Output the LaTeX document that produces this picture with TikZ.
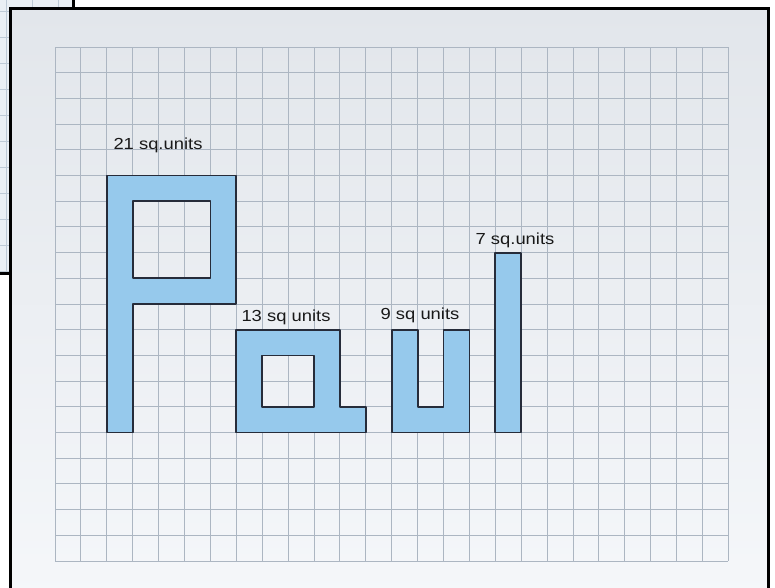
\documentclass[tikz,border=0pt]{standalone}
\usepackage{fontspec}
\setmainfont{Liberation Sans}
\newfontfamily\handfont[FakeStretch=1.15]{Liberation Sans}
\definecolor{behindpaper}{RGB}{234,239,244}
\definecolor{bgridcol}{RGB}{190,202,214}
\definecolor{papertop}{RGB}{226,230,235}
\definecolor{paperbot}{RGB}{245,247,250}
\definecolor{gridcol}{RGB}{172,182,194}
\definecolor{inkblue}{RGB}{150,201,236}
\definecolor{outlinecol}{RGB}{38,44,58}
\tikzset{
  frameline/.style={draw=black, line width=3pt},
  bgridline/.style={draw=bgridcol, line width=0.8pt},
  gridline/.style={draw=gridcol, line width=0.9pt},
  letter/.style={fill=inkblue, draw=outlinecol, line width=1.8pt, even odd rule, line join=round},
  lab/.style={font=\handfont\fontsize{16}{16}\selectfont, text=black!90, inner sep=0pt}
}
\begin{document}
\begin{tikzpicture}[x=1pt,y=-1pt]
\useasboundingbox (0,0) rectangle (775,587);
\fill[white] (0,0) rectangle (775,587);
% paper behind
\fill[behindpaper] (0,0) rectangle (73,273);
\foreach \yy in {11,37,...,273} \draw[bgridline] (0,\yy) -- (73,\yy);
\foreach \xx in {6,32,58} \draw[bgridline] (\xx,0) -- (\xx,273);
\draw[frameline] (73,0) -- (73,9);
\draw[frameline] (0,273) -- (11,273);
% main paper
\shade[top color=papertop, middle color=paperbot, bottom color=paperbot] (10,8) rectangle (768,600);
\draw[frameline] (10,600) -- (10,8) -- (768,8) -- (768,600);
% grid and letters
\begin{scope}[shift={(55,47)}, x=25.9pt, y=-25.7pt]
  \foreach \c in {0,...,26} \draw[gridline] (\c,0) -- (\c,20);
  \foreach \r in {0,...,20} \draw[gridline] (0,\r) -- (26,\r);
  % P
  \path[letter] (2,5) -- (7,5) -- (7,10) -- (3,10) -- (3,15) -- (2,15) -- cycle
                (3,6) rectangle (6,9);
  % a
  \path[letter] (7,11) -- (11,11) -- (11,14) -- (12,14) -- (12,15) -- (7,15) -- cycle
                (8,12) rectangle (10,14);
  % u
  \path[letter] (13,11) -- (14,11) -- (14,14) -- (15,14) -- (15,11) -- (16,11) -- (16,15) -- (13,15) -- cycle;
  % l
  \path[letter] (17,8) rectangle (18,15);
\end{scope}
% labels
\node[lab] (lab21) at (158,145) {21 sq.units};
\node[lab] (lab13) at (286,317) {13 sq units};
\node[lab] (lab9) at (420,315) {9 sq units};
\node[lab] (lab7) at (515,240) {7 sq.units};
\end{tikzpicture}
\end{document}
